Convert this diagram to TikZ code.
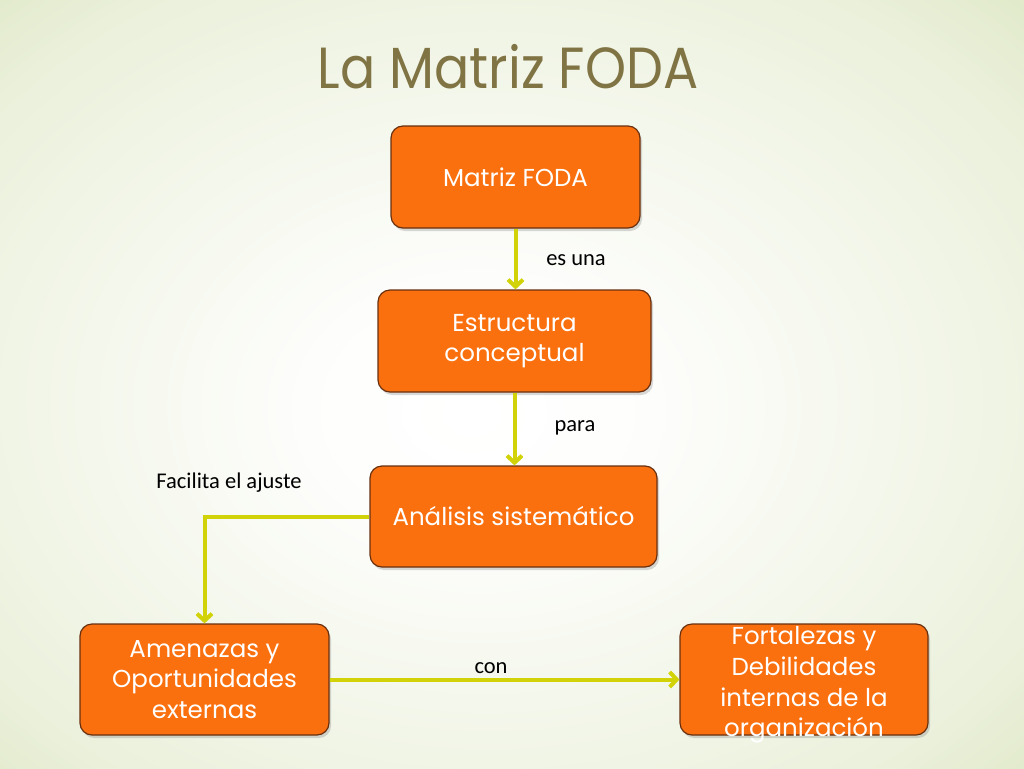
\documentclass[tikz,border=0pt]{standalone}
\usepackage{fontspec}
\setmainfont{Poppins}
\newfontfamily\lblfont{Carlito}
\usetikzlibrary{positioning,arrows.meta,shadows}

\definecolor{bgGreen}{RGB}{216,227,186}
\definecolor{boxOrange}{RGB}{250,112,14}
\definecolor{boxEdge}{RGB}{105,48,16}
\definecolor{linkYellow}{RGB}{210,210,8}
\definecolor{titleOlive}{RGB}{128,116,68}

\pgfdeclareradialshading{slideglow}{\pgfpoint{-2bp}{-2bp}}{%
  color(0bp)=(white); color(8bp)=(white!96!bgGreen);
  color(30bp)=(white!50!bgGreen); color(42bp)=(bgGreen); color(50bp)=(bgGreen)}

\tikzset{
  box/.style={draw=boxEdge, line width=1.2pt, fill=boxOrange, rounded corners=12pt,
    text=white, align=center, inner xsep=4pt, inner ysep=0pt,
    font=\fontsize{24.5}{30.5}\selectfont,
    drop shadow={opacity=0.3, shadow xshift=2pt, shadow yshift=-3pt}},
  boxtext/.style={text=white, align=center, font=\fontsize{24.5}{30.7}\selectfont},
  link/.style={draw=linkYellow, line width=4pt, -{Straight Barb[length=7pt,width=15pt]}},
  lbl/.style={font=\lblfont\fontsize{22.5}{26}\selectfont, text=black}
}

\begin{document}
\begin{tikzpicture}[x=1pt,y=-1pt]
  \shade[shading=slideglow] (0,0) rectangle (1024,768);
  \useasboundingbox (0,0) rectangle (1024,768);

  \node[text=titleOlive, font=\fontsize{58}{60}\selectfont, xscale=0.9] (title) at (508,67) {La Matriz FODA};

  \node[box, minimum width=249pt, minimum height=102pt] (foda) at (515.5,177) {Matriz FODA};
  \node[box, minimum width=273pt, minimum height=102pt] (estr) at (514.5,341) {Estructura\\conceptual};
  \node[box, minimum width=287pt, minimum height=101pt] (anal) at (513.5,516.5) {Análisis sistemático};
  \node[box, minimum width=249pt, minimum height=111pt] (amen) at (204.5,679.5) {Amenazas y\\Oportunidades\\externas};
  \node[box, minimum width=248pt, minimum height=111pt] (fort) at (804,679.5) {};
  \node[boxtext] (forttext) at (804,685) {Fortalezas y\\Debilidades\\internas de la\\organización};

  \draw[link] (foda.south) -- (foda.south |- estr.north);
  \draw[link] (estr.south) -- (estr.south |- anal.north);
  \draw[link] (anal.west) -| (amen.north);
  \draw[link] (amen.east) -- (fort.west);

  \node[lbl] (esuna) at (576,260) {es una};
  \node[lbl] (para) at (575,428) {para};
  \node[lbl] (facil) at (229,483) {Facilita el ajuste};
  \node[lbl] (con) at (491,668) {con};
\end{tikzpicture}
\end{document}
